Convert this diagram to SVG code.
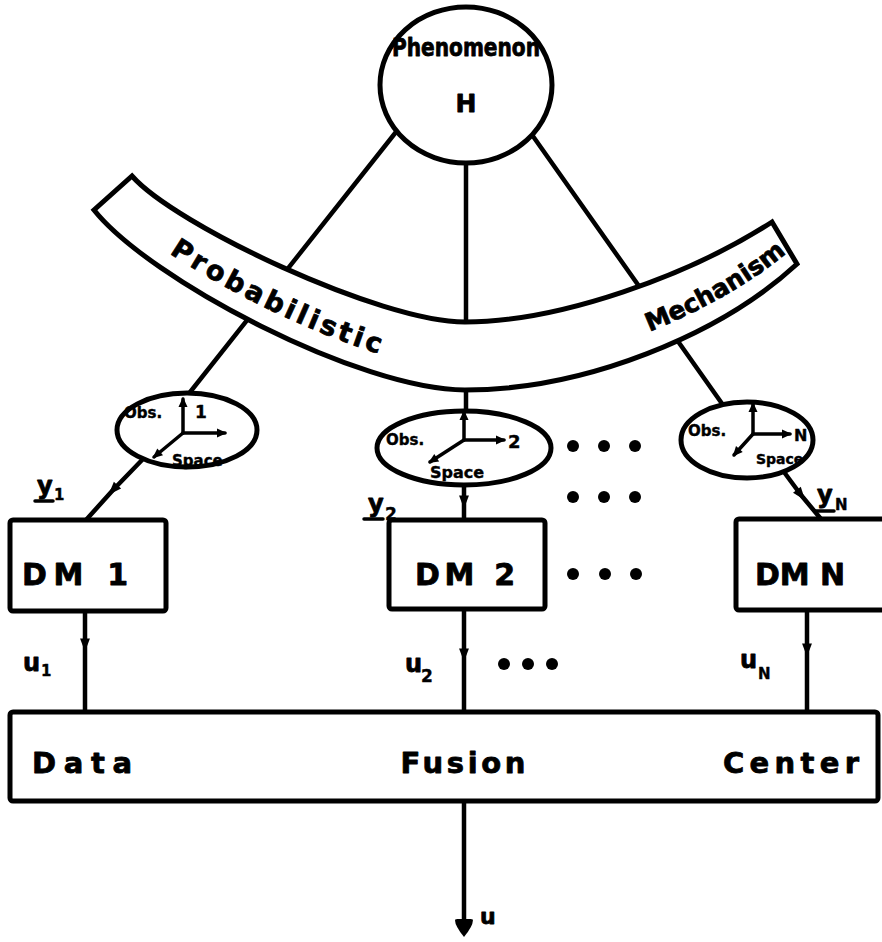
<svg xmlns="http://www.w3.org/2000/svg" width="882" height="942" viewBox="0 0 882 942">
  <style>
    .ln { stroke:#000; stroke-width:4.5; fill:none; stroke-linecap:round; stroke-linejoin:round; }
    .ax { stroke:#000; stroke-width:3.5; fill:none; stroke-linecap:round; }
    .nd { fill:#fff; stroke:#000; stroke-width:5; }
    .t  { font-family:"DejaVu Sans","Liberation Sans",sans-serif; font-weight:bold; fill:#000; stroke:#000; stroke-width:0.8; stroke-linejoin:round; }
    .s  { stroke-width:0.4; }
    .dot { fill:#000; }
  </style>
  <defs>
    <marker id="mid" viewBox="0 0 12 10" refX="6" refY="5" markerWidth="15" markerHeight="11" markerUnits="userSpaceOnUse" orient="auto">
      <path d="M0,0.5 L12,5 L0,9.5 Z" fill="#000"/>
    </marker>
    <marker id="axhead" viewBox="0 0 10 10" refX="8" refY="5" markerWidth="11" markerHeight="10" markerUnits="userSpaceOnUse" orient="auto">
      <path d="M0,0.5 L10,5 L0,9.5 Z" fill="#000"/>
    </marker>
    <marker id="outhead" viewBox="0 0 14 16" refX="10" refY="8" markerWidth="18" markerHeight="20" markerUnits="userSpaceOnUse" orient="auto">
      <path d="M0,1 Q4,0 14,8 Q4,16 0,15 Q-2,8 0,1 Z" fill="#000"/>
    </marker>
  </defs>

  <!-- connectors -->
  <g id="connectors">
    <line class="ln" x1="396" y1="132" x2="187" y2="396"/>
    <line class="ln" x1="466" y1="150" x2="466" y2="420"/>
    <line class="ln" x1="530" y1="132" x2="723" y2="405"/>
    <polyline class="ln" points="142,460 113,490 86,520" marker-mid="url(#mid)"/>
    <polyline class="ln" points="464,482 464,502 464,520" marker-mid="url(#mid)"/>
    <polyline class="ln" points="784,472 801,495 821,519" marker-mid="url(#mid)"/>
    <polyline class="ln" points="85,612 85,645 85,712" marker-mid="url(#mid)"/>
    <polyline class="ln" points="464,610 464,655 464,712" marker-mid="url(#mid)"/>
    <polyline class="ln" points="807,610 807,650 807,712" marker-mid="url(#mid)"/>
    <line class="ln" x1="464" y1="802" x2="464" y2="932" marker-end="url(#outhead)"/>
  </g>

  <!-- probabilistic mechanism band -->
  <g id="mechanism">
    <path class="nd" d="M132,176 C175,225 380,322 465,322 C560,322 690,275 772,222 L797,264 C720,335 585,390 465,390 C360,390 150,280 94,210 Z"/>
    <path id="bandText" d="M105,200 C157,263 366,370 465,370 C577,370 711,317 789,251" fill="none"/>
    <text class="t" font-size="27" letter-spacing="3.5"><textPath href="#bandText" startOffset="84">Probabilistic</textPath></text>
    <text class="t" font-size="25"><textPath href="#bandText" startOffset="594">Mechanism</textPath></text>
  </g>

  <g id="phenomenon">
    <ellipse class="nd" cx="466" cy="85" rx="86" ry="78"/>
    <text class="t" x="466" y="56" font-size="24" text-anchor="middle" textLength="148" lengthAdjust="spacingAndGlyphs">Phenomenon</text>
    <text class="t" x="466" y="112" font-size="25" text-anchor="middle">H</text>
  </g>

  <g id="obs1">
    <ellipse class="nd" cx="187" cy="430" rx="70" ry="37"/>
    <line class="ax" x1="183" y1="433" x2="183" y2="399" marker-end="url(#axhead)"/>
    <line class="ax" x1="183" y1="433" x2="225" y2="433" marker-end="url(#axhead)"/>
    <line class="ax" x1="183" y1="433" x2="154" y2="457" marker-end="url(#axhead)"/>
    <text class="t s" x="124" y="418" font-size="15">Obs.</text>
    <text class="t s" x="195" y="418" font-size="17">1</text>
    <text class="t s" x="172" y="466" font-size="15">Space</text>
  </g>

  <g id="obs2">
    <ellipse class="nd" cx="464" cy="448" rx="87" ry="37"/>
    <line class="ax" x1="464" y1="440" x2="464" y2="412" marker-end="url(#axhead)"/>
    <line class="ax" x1="464" y1="440" x2="504" y2="440" marker-end="url(#axhead)"/>
    <line class="ax" x1="464" y1="440" x2="430" y2="462" marker-end="url(#axhead)"/>
    <text class="t s" x="386" y="445" font-size="15">Obs.</text>
    <text class="t s" x="508" y="448" font-size="18">2</text>
    <text class="t s" x="430" y="478" font-size="16">Space</text>
  </g>

  <g id="obsN">
    <ellipse class="nd" cx="747" cy="440" rx="66" ry="38"/>
    <line class="ax" x1="753" y1="434" x2="753" y2="404" marker-end="url(#axhead)"/>
    <line class="ax" x1="753" y1="434" x2="790" y2="434" marker-end="url(#axhead)"/>
    <line class="ax" x1="753" y1="434" x2="734" y2="455" marker-end="url(#axhead)"/>
    <text class="t s" x="688" y="436" font-size="15">Obs.</text>
    <text class="t s" x="794" y="441" font-size="16">N</text>
    <text class="t s" x="756" y="464" font-size="14">Space</text>
  </g>

  <g id="dm1">
    <rect class="nd" x="10" y="520" width="156" height="91" rx="3"/>
    <text class="t" x="75" y="585" font-size="30" text-anchor="middle" textLength="106" lengthAdjust="spacing">DM 1</text>
  </g>
  <g id="dm2">
    <rect class="nd" x="389" y="520" width="156" height="89" rx="3"/>
    <text class="t" x="465" y="585" font-size="30" text-anchor="middle" textLength="100" lengthAdjust="spacing">DM 2</text>
  </g>
  <g id="dmN">
    <rect class="nd" x="736" y="519" width="160" height="91" rx="3"/>
    <text class="t" x="800" y="585" font-size="30" text-anchor="middle" textLength="90" lengthAdjust="spacing">DM N</text>
  </g>

  <g id="fusion">
    <rect class="nd" x="10" y="712" width="868" height="89" rx="3"/>
    <text class="t" x="82" y="773" font-size="29" text-anchor="middle" textLength="100" lengthAdjust="spacing">Data</text>
    <text class="t" x="463" y="773" font-size="29" text-anchor="middle" textLength="125" lengthAdjust="spacing">Fusion</text>
    <text class="t" x="791" y="773" font-size="29" text-anchor="middle" textLength="136" lengthAdjust="spacing">Center</text>
  </g>

  <!-- connector labels -->
  <g id="labels">
    <text class="t" x="37" y="494" font-size="24">y</text>
    <text class="t s" x="54" y="500" font-size="15">1</text>
    <line class="ax" x1="35" y1="501" x2="53" y2="501"/>
    <text class="t" x="368" y="512" font-size="24">y</text>
    <text class="t s" x="385" y="520" font-size="17">2</text>
    <line class="ax" x1="364" y1="519" x2="383" y2="519"/>
    <text class="t" x="817" y="503" font-size="24">y</text>
    <text class="t s" x="835" y="510" font-size="15">N</text>
    <line class="ax" x1="815" y1="511" x2="834" y2="511"/>
    <text class="t" x="23" y="671" font-size="24">u</text>
    <text class="t s" x="41" y="676" font-size="15">1</text>
    <text class="t" x="405" y="672" font-size="24">u</text>
    <text class="t s" x="421" y="682" font-size="17">2</text>
    <text class="t" x="740" y="668" font-size="24">u</text>
    <text class="t s" x="758" y="679" font-size="15">N</text>
    <text class="t" x="480" y="924" font-size="22">u</text>
  </g>

  <g id="ellipsis">
    <circle class="dot" cx="573" cy="446" r="6"/><circle class="dot" cx="604" cy="446" r="6"/><circle class="dot" cx="635" cy="446" r="6"/>
    <circle class="dot" cx="573" cy="497" r="6"/><circle class="dot" cx="604" cy="497" r="6"/><circle class="dot" cx="635" cy="497" r="6"/>
    <circle class="dot" cx="573" cy="574" r="6"/><circle class="dot" cx="605" cy="574" r="6"/><circle class="dot" cx="636" cy="574" r="6"/>
    <circle class="dot" cx="504" cy="664" r="6"/><circle class="dot" cx="528" cy="664" r="6"/><circle class="dot" cx="552" cy="664" r="6"/>
  </g>
</svg>
